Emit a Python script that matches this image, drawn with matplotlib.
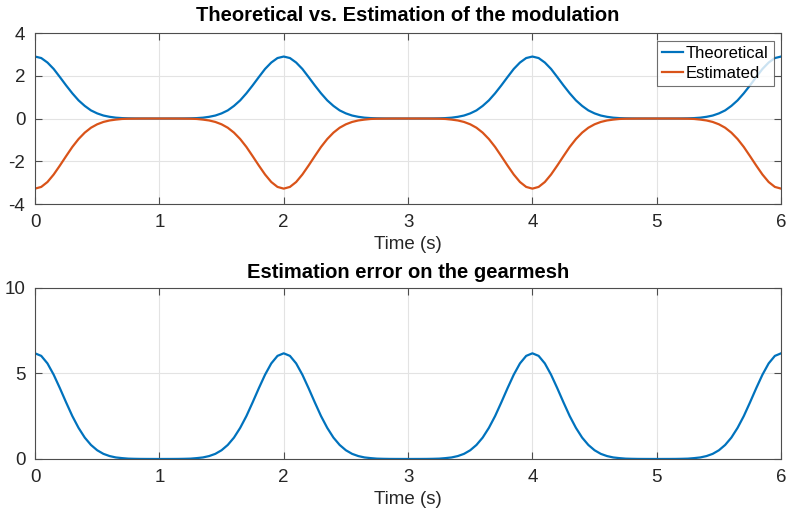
import numpy as np
import matplotlib
matplotlib.use("Agg")
import matplotlib.pyplot as plt

plt.rcParams['font.family'] = ['Liberation Sans', 'DejaVu Sans']
plt.rcParams['axes.unicode_minus'] = False

# time base, 0.05 s step
t = np.linspace(0, 6, 121)

theoretical = [
    2.90, 2.83, 2.62, 2.32, 1.94, 1.55, 1.18, 0.85, 0.59, 0.38, 0.24, 0.14, 0.08, 0.04, 0.02, 0.01, 0.005, 0.002, 0.001, 0.0, 0.0,
    0.0, 0.001, 0.002, 0.005, 0.01, 0.02, 0.04, 0.08, 0.14, 0.24, 0.38, 0.59, 0.85, 1.18, 1.55, 1.94, 2.32, 2.62, 2.83, 2.90,
    2.83, 2.62, 2.32, 1.94, 1.55, 1.18, 0.85, 0.59, 0.38, 0.24, 0.14, 0.08, 0.04, 0.02, 0.01, 0.005, 0.002, 0.001, 0.0, 0.0,
    0.0, 0.001, 0.002, 0.005, 0.01, 0.02, 0.04, 0.08, 0.14, 0.24, 0.38, 0.59, 0.85, 1.18, 1.55, 1.94, 2.32, 2.62, 2.83, 2.90,
    2.83, 2.62, 2.32, 1.94, 1.55, 1.18, 0.85, 0.59, 0.38, 0.24, 0.14, 0.08, 0.04, 0.02, 0.01, 0.005, 0.002, 0.001, 0.0, 0.0,
    0.0, 0.001, 0.002, 0.005, 0.01, 0.02, 0.04, 0.08, 0.14, 0.24, 0.38, 0.59, 0.85, 1.18, 1.55, 1.94, 2.32, 2.62, 2.83, 2.90,
]
estimated = [
    -3.28, -3.20, -2.97, -2.62, -2.20, -1.76, -1.33, -0.96, -0.66, -0.43, -0.27, -0.16, -0.09, -0.05, -0.02, -0.01, -0.006, -0.002, -0.001, 0.0, 0.0,
    0.0, -0.001, -0.002, -0.006, -0.01, -0.02, -0.05, -0.09, -0.16, -0.27, -0.43, -0.66, -0.96, -1.33, -1.76, -2.20, -2.62, -2.97, -3.20, -3.28,
    -3.20, -2.97, -2.62, -2.20, -1.76, -1.33, -0.96, -0.66, -0.43, -0.27, -0.16, -0.09, -0.05, -0.02, -0.01, -0.006, -0.002, -0.001, 0.0, 0.0,
    0.0, -0.001, -0.002, -0.006, -0.01, -0.02, -0.05, -0.09, -0.16, -0.27, -0.43, -0.66, -0.96, -1.33, -1.76, -2.20, -2.62, -2.97, -3.20, -3.28,
    -3.20, -2.97, -2.62, -2.20, -1.76, -1.33, -0.96, -0.66, -0.43, -0.27, -0.16, -0.09, -0.05, -0.02, -0.01, -0.006, -0.002, -0.001, 0.0, 0.0,
    0.0, -0.001, -0.002, -0.006, -0.01, -0.02, -0.05, -0.09, -0.16, -0.27, -0.43, -0.66, -0.96, -1.33, -1.76, -2.20, -2.62, -2.97, -3.20, -3.28,
]
error = [
    6.18, 6.03, 5.59, 4.93, 4.14, 3.31, 2.51, 1.82, 1.25, 0.82, 0.51, 0.30, 0.17, 0.09, 0.05, 0.02, 0.01, 0.004, 0.002, 0.001, 0.0,
    0.001, 0.002, 0.004, 0.01, 0.02, 0.05, 0.09, 0.17, 0.30, 0.51, 0.82, 1.25, 1.82, 2.51, 3.31, 4.14, 4.93, 5.59, 6.03, 6.18,
    6.03, 5.59, 4.93, 4.14, 3.31, 2.51, 1.82, 1.25, 0.82, 0.51, 0.30, 0.17, 0.09, 0.05, 0.02, 0.01, 0.004, 0.002, 0.001, 0.0,
    0.001, 0.002, 0.004, 0.01, 0.02, 0.05, 0.09, 0.17, 0.30, 0.51, 0.82, 1.25, 1.82, 2.51, 3.31, 4.14, 4.93, 5.59, 6.03, 6.18,
    6.03, 5.59, 4.93, 4.14, 3.31, 2.51, 1.82, 1.25, 0.82, 0.51, 0.30, 0.17, 0.09, 0.05, 0.02, 0.01, 0.004, 0.002, 0.001, 0.0,
    0.001, 0.002, 0.004, 0.01, 0.02, 0.05, 0.09, 0.17, 0.30, 0.51, 0.82, 1.25, 1.82, 2.51, 3.31, 4.14, 4.93, 5.59, 6.03, 6.18,
]

x_ticks = [0, 1, 2, 3, 4, 5, 6]
y_ticks_top = [-4, -2, 0, 2, 4]
y_ticks_bot = [0, 5, 10]

BLUE = "#0072BD"
ORANGE = "#D95319"
EDGE = "#4d4d4d"
TXT = "#262626"

fig = plt.figure(figsize=(7.87, 5.13), dpi=100)
ax1 = fig.add_axes([0.0445, 0.6023, 0.948, 0.3333])
ax2 = fig.add_axes([0.0445, 0.1053, 0.948, 0.3333])


def style(ax, yt):
    ax.set_xlim(0, 6)
    ax.set_xticks(x_ticks)
    ax.set_yticks(yt)
    ax.set_ylim(yt[0], yt[-1])
    ax.grid(True, color="#e3e3e3", lw=0.8)
    ax.set_axisbelow(True)
    for s in ax.spines.values():
        s.set_color(EDGE)
        s.set_linewidth(0.8)
    ax.tick_params(direction="in", top=True, right=True, length=5,
                   color=EDGE, labelsize=13.5, labelcolor=TXT, pad=7)
    ax.set_xlabel("Time (s)", fontsize=13.5, color=TXT, labelpad=4)


ax1.plot(t, theoretical, color=BLUE, lw=1.6, label="Theoretical")
ax1.plot(t, estimated, color=ORANGE, lw=1.6, label="Estimated")
style(ax1, y_ticks_top)
ax1.set_title("Theoretical vs. Estimation of the modulation",
              fontsize=14.5, fontweight="bold", pad=9)
leg = ax1.legend(loc="upper right", fontsize=12, frameon=True, fancybox=False,
                 borderpad=0.3, handlelength=1.3, handletextpad=0.15,
                 labelspacing=0.3, borderaxespad=0.45)
leg.get_frame().set_edgecolor(EDGE)
leg.get_frame().set_linewidth(0.8)

ax2.plot(t, error, color=BLUE, lw=1.6)
style(ax2, y_ticks_bot)
ax2.set_title("Estimation error on the gearmesh",
              fontsize=14.5, fontweight="bold", pad=7)

fig.savefig("out.png", dpi=100)
